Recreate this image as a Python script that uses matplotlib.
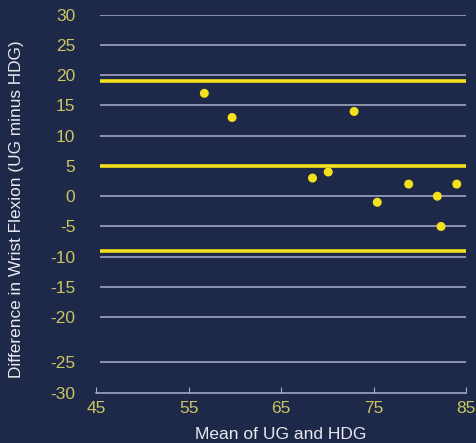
import matplotlib
matplotlib.use("Agg")
import matplotlib.pyplot as plt
import numpy as np

# Data
mean_vals = [56.7, 59.7, 72.9, 68.4, 70.1, 75.4, 78.8, 81.9, 84.0, 82.3]
diff_vals = [17, 13, 14, 3, 4, -1, 2, 0, 2, -5]
bias = 5.0
upper_loa = 19.1
lower_loa = -9.1
x_ticks = [45, 55, 65, 75, 85]
y_ticks = [30, 25, 20, 15, 10, 5, 0, -5, -10, -15, -20, -25, -30]
grid_vals = [30, 25, 20, 15, 10, 0, -5, -10, -15, -20, -25]

BG = "#1e2949"
TICK_C = "#cbc462"
GRID_C = "#aab0cc"
YEL = "#f4e11c"

# piecewise axis (the original stretches the -20..-25 interval)
def fwd(y):
    y = np.asarray(y, dtype=float)
    return np.where(y >= -20, y,
                    np.where(y >= -25, -20 + (y + 20) * 1.48,
                             -27.4 + (y + 25) * 1.02))

def inv(v):
    v = np.asarray(v, dtype=float)
    return np.where(v >= -20, v,
                    np.where(v >= -27.4, -20 + (v + 20) / 1.48,
                             -25 + (v + 27.4) / 1.02))

fig = plt.figure(figsize=(4.76, 4.43), dpi=100, facecolor=BG)
ax = fig.add_axes([0.202, 0.113, 0.777, 0.854], facecolor=BG)
ax.set_yscale("function", functions=(fwd, inv))
ax.set_xlim(45, 85)
ax.set_ylim(-30, 30)

for g in grid_vals:
    ax.plot([45.4, 85], [g, g], color=GRID_C, lw=1.1, zorder=1, solid_capstyle="butt")

for v in (upper_loa, bias, lower_loa):
    ax.plot([45.4, 85], [v, v], color=YEL, lw=2.6, zorder=2, solid_capstyle="butt")

ax.scatter(mean_vals, diff_vals, s=42, color=YEL, zorder=3, edgecolors="none")

for s in ("top", "right", "left"):
    ax.spines[s].set_visible(False)
ax.spines["bottom"].set_color(GRID_C)
ax.spines["bottom"].set_linewidth(1.1)

ax.set_xticks(x_ticks)
ax.set_xticklabels([str(t) for t in x_ticks])
ax.set_yticks(y_ticks)
ax.set_yticklabels([str(t) for t in y_ticks])
ax.yaxis.set_minor_locator(matplotlib.ticker.NullLocator())
ax.tick_params(axis="x", direction="in", length=4, color=GRID_C, labelcolor=TICK_C,
               labelsize=12.5, pad=6)
ax.tick_params(axis="y", length=0, labelcolor=TICK_C, labelsize=12.5, pad=15)
for lab in ax.get_xticklabels() + ax.get_yticklabels():
    lab.set_family("Liberation Sans")

ax.set_xlabel("Mean of UG and HDG", color="#e8e8ee", fontsize=12.5,
              family="Liberation Sans", labelpad=8)
ax.set_ylabel("Difference in Wrist Flexion (UG minus HDG)", color="#e8e8ee",
              fontsize=12.4, family="Liberation Sans", labelpad=0)
ax.yaxis.set_label_coords(-0.195, 0.485)

fig.savefig("out.png", dpi=100, facecolor=BG)
